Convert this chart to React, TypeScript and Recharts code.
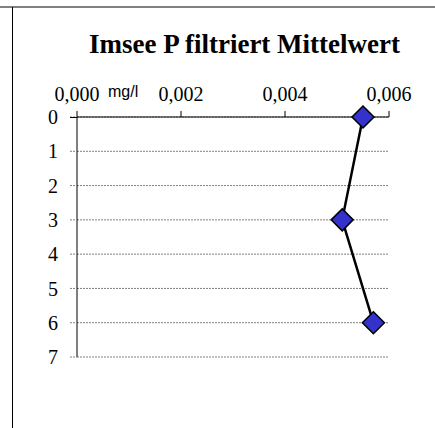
import React from 'react';
import { LineChart, Line, XAxis, YAxis, CartesianGrid } from 'recharts';

const depths = [0, 3, 6];
const pValues = [0.0055, 0.0051, 0.0057];
const xTicks = [0, 0.002, 0.004, 0.006];
const yTicks = [0, 1, 2, 3, 4, 5, 6, 7];

const data = depths.map((d, i) => ({ depth: d, p: pValues[i] }));

const SERIF = '"Liberation Serif", "Times New Roman", serif';

const Diamond = (props: any) => {
  const { cx, cy } = props;
  if (cx == null || cy == null) return null;
  const r = 11;
  return (
    <polygon
      points={`${cx},${cy - r} ${cx + r},${cy} ${cx},${cy + r} ${cx - r},${cy}`}
      fill="#3333cc"
      stroke="#000"
      strokeWidth={1.5}
    />
  );
};

const fmt = (v: number) => v.toFixed(3).replace('.', ',');

export default function App() {
  return (
    <div style={{ position: 'absolute', left: 0, top: 0, width: 435, height: 428, background: '#fff' }}>
      <LineChart
        width={435}
        height={428}
        data={data}
        layout="vertical"
        margin={{ top: 87, right: 46, bottom: 71, left: 47 }}
      >
        <CartesianGrid vertical={false} stroke="#808080" strokeDasharray="2 1" />
        <XAxis
          type="number"
          orientation="top"
          domain={[0, 0.006]}
          ticks={xTicks}
          tickFormatter={fmt}
          height={30}
          axisLine={{ stroke: '#000' }}
          tickLine={{ stroke: '#000' }}
          tickSize={6}
          tickMargin={10}
          tick={{ fill: '#000', fontFamily: SERIF, fontSize: 20 }}
          interval={0}
        />
        <YAxis
          type="number"
          dataKey="depth"
          domain={[0, 7]}
          ticks={yTicks}
          width={30}
          axisLine={{ stroke: '#000' }}
          tickLine={{ stroke: '#808080', strokeDasharray: '2 1' }}
          tickSize={7}
          tickMargin={12}
          tick={{ fill: '#000', fontFamily: SERIF, fontSize: 20 }}
          interval={0}
        />
        <Line
          dataKey="p"
          stroke="#000"
          strokeWidth={2.5}
          dot={<Diamond />}
          activeDot={false}
          isAnimationActive={false}
        />
      </LineChart>
      <svg width={435} height={428} style={{ position: 'absolute', left: 0, top: 0, pointerEvents: 'none' }}>
        <line x1={0} y1={7} x2={435} y2={7} stroke="#808080" strokeWidth={2} />
        <line x1={12.5} y1={7} x2={12.5} y2={428} stroke="#000" strokeWidth={1} />
        <line x1={70} y1={117.5} x2={77} y2={117.5} stroke="#000" strokeWidth={1} />
        <text x={244.5} y={53} textAnchor="middle" fontFamily={SERIF} fontWeight="bold" fontSize={27} fill="#000">
          Imsee P filtriert Mittelwert
        </text>
        <text x={108} y={97} fontFamily='"Liberation Sans", Arial, sans-serif' fontSize={16} fill="#000">
          mg/l
        </text>
      </svg>
    </div>
  );
}
